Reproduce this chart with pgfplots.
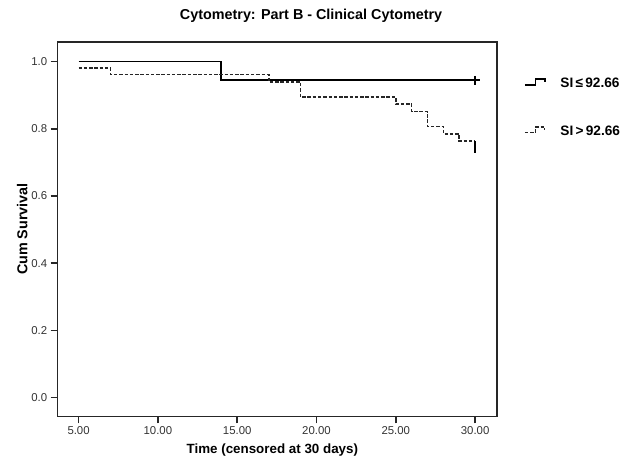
\documentclass[border=0pt]{standalone}
\usepackage{pgfplots}
\pgfplotsset{compat=1.18}
\usepackage{fontspec}
\setmainfont{Liberation Sans}

\begin{document}
\begin{tikzpicture}
\begin{axis}[
    scale only axis,
    width=442bp,
    height=377bp,
    xmin=3.68, xmax=31.38,
    ymin=-0.056, ymax=1.059,
    xtick={5,10,15,20,25,30},
    ytick={0,0.2,0.4,0.6,0.8,1.0},
    xticklabel style={/pgf/number format/.cd, fixed, fixed zerofill, precision=2},
    yticklabel style={/pgf/number format/.cd, fixed, fixed zerofill, precision=1},
    /pgf/number format/assume math mode=true,
    ticklabel style={font=\fontsize{11.5}{13}\selectfont, text=black!80},
    tick align=outside,
    xtick pos=bottom,
    ytick pos=left,
    major tick length=7bp,
    tick style={line width=1.6pt, black!85},
    axis line style={line width=1.6pt, black!85},
    xlabel={\textbf{Time (censored at 30 days)}},
    ylabel={\textbf{Cum Survival}},
    xlabel style={font=\fontsize{13.5}{15}\selectfont, yshift=-2bp, xshift=-5bp},
    ylabel style={font=\fontsize{14.5}{17}\selectfont, yshift=-3bp},
    legend style={draw=none, fill=none, at={(1,1)}, anchor=north west,
        xshift=24bp, yshift=-32bp, row sep=33bp,
        font=\bfseries\fontsize{13.8}{15}\selectfont},
    legend cell align=left,
    legend image code/.code={
        \draw[#1] (0cm,-0.05cm) -- (0.38cm,-0.05cm) -- (0.38cm,0.14cm)
            -- (0.7cm,0.14cm) -- (0.7cm,0.05cm);},
]
\addplot[const plot, line width=1.8pt, black] coordinates {
    (5,1.0) (14,0.944) (30,0.944)
};
\addlegendentry{\hspace{13bp}SI\,≤\,92.66}
\addplot[const plot, line width=1.5pt, black!85, dash pattern=on 3.5bp off 1.8bp] coordinates {
    (5,0.981) (7,0.961) (17,0.939) (19,0.894) (25,0.874) (26,0.851)
    (27,0.807) (28,0.785) (29,0.763) (30,0.763)
};
\addlegendentry{\hspace{13bp}SI\,>\,92.66}
\addplot[only marks, mark=+, mark size=4.5bp, line width=1.8pt, black, forget plot]
    coordinates {(30,0.944)};
\addplot[only marks, mark=|, mark size=6bp, line width=2.2pt, black, forget plot]
    coordinates {(30,0.745)};
\end{axis}
\node[font=\bfseries\fontsize{14.5}{16}\selectfont] at (255bp,403bp)
    {Cytometry: Part B - Clinical Cytometry};
\path[use as bounding box] (-58bp,-49bp) rectangle (567bp,419bp);
\end{tikzpicture}
\end{document}
